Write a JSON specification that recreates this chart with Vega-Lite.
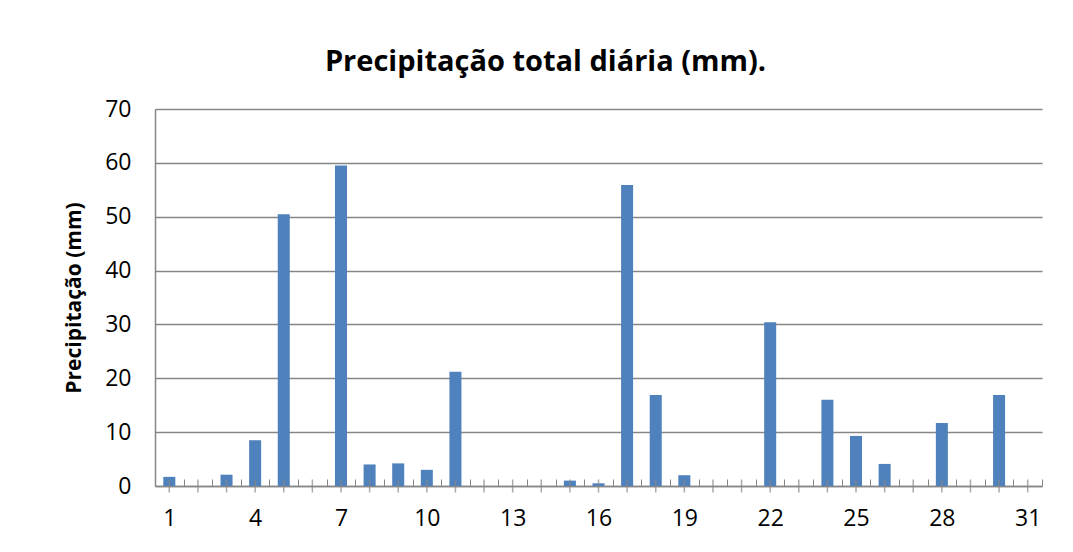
{
  "$schema": "https://vega.github.io/schema/vega-lite/v6.json",
  "autosize": {"type": "none"},
  "width": 887,
  "height": 377,
  "padding": {"left": 155, "top": 109, "right": 31, "bottom": 66},
  "background": "white",
  "title": {
    "text": "Precipitação total diária (mm).",
    "font": "Open Sans",
    "fontSize": 29,
    "fontWeight": "bold",
    "color": "#000000",
    "anchor": "middle",
    "dx": -53,
    "offset": 21
  },
  "data": {
    "values": [
      {"dia": 1, "precip": 1.7}, {"dia": 2, "precip": 0}, {"dia": 3, "precip": 2.1},
      {"dia": 4, "precip": 8.5}, {"dia": 5, "precip": 50.45}, {"dia": 6, "precip": 0},
      {"dia": 7, "precip": 59.5}, {"dia": 8, "precip": 4.0}, {"dia": 9, "precip": 4.2},
      {"dia": 10, "precip": 3.0}, {"dia": 11, "precip": 21.2}, {"dia": 12, "precip": 0},
      {"dia": 13, "precip": 0}, {"dia": 14, "precip": 0}, {"dia": 15, "precip": 1.0},
      {"dia": 16, "precip": 0.5}, {"dia": 17, "precip": 55.9}, {"dia": 18, "precip": 16.9},
      {"dia": 19, "precip": 2.0}, {"dia": 20, "precip": 0}, {"dia": 21, "precip": 0},
      {"dia": 22, "precip": 30.4}, {"dia": 23, "precip": 0}, {"dia": 24, "precip": 16.0},
      {"dia": 25, "precip": 9.3}, {"dia": 26, "precip": 4.1}, {"dia": 27, "precip": 0},
      {"dia": 28, "precip": 11.7}, {"dia": 29, "precip": 0}, {"dia": 30, "precip": 16.9},
      {"dia": 31, "precip": 0}
    ]
  },
  "layer": [
    {
      "mark": {"type": "bar", "color": "#4F81BD", "width": {"band": 0.42}},
      "encoding": {
        "x": {
          "field": "dia",
          "type": "ordinal",
          "scale": {"paddingInner": 0, "paddingOuter": 0},
          "axis": {
            "title": null,
            "labelAngle": 0,
            "labelExpr": "(datum.value - 1) % 3 == 0 ? datum.value : ''",
            "labelFont": "Open Sans",
            "labelFontSize": 23,
            "labelColor": "#000000",
            "labelPadding": 28,
            "tickBand": "extent",
            "tickSize": -7,
            "tickColor": "#868686",
            "domainColor": "#868686",
            "domainWidth": 1.5,
            "grid": false
          }
        },
        "y": {
          "field": "precip",
          "type": "quantitative",
          "scale": {"domain": [0, 70], "nice": false},
          "axis": {
            "title": "Precipitação (mm)",
            "titleFont": "Open Sans",
            "titleFontSize": 21,
            "titleFontWeight": "bold",
            "titleColor": "#000000",
            "titlePadding": 20,
            "values": [0, 10, 20, 30, 40, 50, 60, 70],
            "labelFont": "Open Sans",
            "labelFontSize": 23,
            "labelColor": "#000000",
            "labelPadding": 24,
            "ticks": false,
            "grid": true,
            "gridColor": "#868686",
            "gridWidth": 1.5,
            "domainColor": "#868686",
            "domainWidth": 1.5
          }
        }
      }
    },
    {
      "mark": {"type": "tick", "orient": "vertical", "size": 13, "thickness": 1.5, "color": "#868686"},
      "encoding": {
        "x": {"field": "dia", "type": "ordinal"},
        "y": {"datum": 0, "type": "quantitative"}
      }
    }
  ],
  "config": {"view": {"stroke": null}}
}
